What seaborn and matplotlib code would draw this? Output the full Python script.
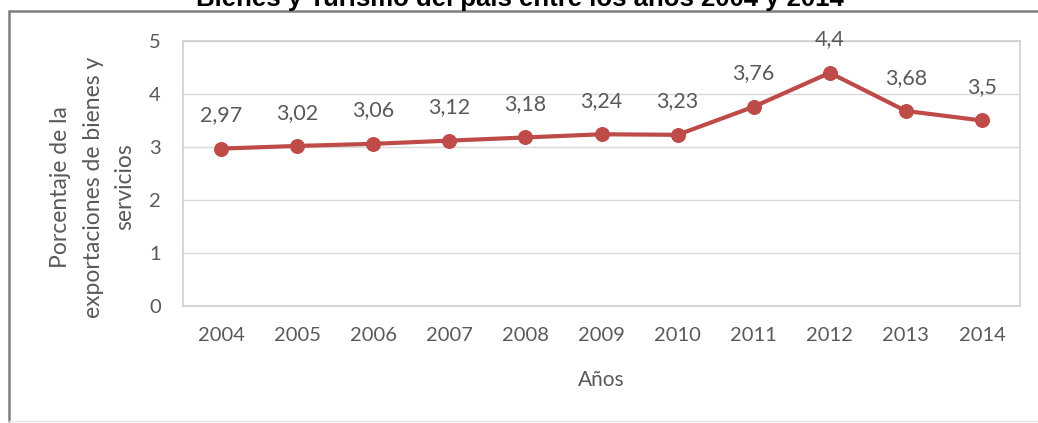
import matplotlib
matplotlib.use("Agg")
import matplotlib.pyplot as plt
import seaborn as sns
import pandas as pd
from matplotlib.lines import Line2D

years = ["2004", "2005", "2006", "2007", "2008", "2009", "2010", "2011", "2012", "2013", "2014"]
values = [2.97, 3.02, 3.06, 3.12, 3.18, 3.24, 3.23, 3.76, 4.4, 3.68, 3.5]
value_labels = ["2,97", "3,02", "3,06", "3,12", "3,18", "3,24", "3,23", "3,76", "4,4", "3,68", "3,5"]
y_ticks = [0, 1, 2, 3, 4, 5]

title = "Bienes y Turismo del país entre los años 2004 y 2014"
ylabel = "Porcentaje de la\nexportaciones de bienes y\nservicios"
xlabel = "Años"

sns.set_theme(style="white")
plt.rcParams["font.family"] = ["Lato", "DejaVu Sans"]

W, H = 1038, 423
fig = plt.figure(figsize=(W / 100, H / 100), dpi=100)
fig.patch.set_facecolor("white")

ax = fig.add_axes([183 / W, 1 - 306 / H, (1020 - 183) / W, (306 - 41) / H])

df = pd.DataFrame({"year": years, "value": values})
line_color = "#BE4B48"
sns.lineplot(data=df, x="year", y="value", ax=ax, color=line_color, linewidth=3,
             marker="o", markersize=10, markeredgecolor=line_color, sort=False)

ax.set_xlim(-0.5, len(years) - 0.5)
ax.set_ylim(0, 5)
ax.set_yticks(y_ticks)
ax.set_yticklabels([str(t) for t in y_ticks])
ax.grid(axis="y", color="#D9D9D9", linewidth=1)
ax.set_axisbelow(True)
for s in ax.spines.values():
    s.set_visible(True)
    s.set_color("#D0D0D0")
    s.set_linewidth(1.2)

text_color = "#595959"
ax.tick_params(axis="both", length=0, labelsize=14.5, labelcolor=text_color)
ax.tick_params(axis="y", pad=16)
ax.tick_params(axis="x", pad=15)
ax.set_xlabel("")
ax.set_ylabel("")

for i, (v, lab) in enumerate(zip(values, value_labels)):
    ax.annotate(lab, (i, v), xytext=(0, 24), textcoords="offset points",
                ha="center", va="center", fontsize=15.5, color=text_color)

fig.text(601 / W, 1 - 380 / H, xlabel, ha="center", va="center", fontsize=15, color=text_color)
fig.text(93 / W, 1 - 187 / H, ylabel, ha="center", va="center", rotation=90,
         fontsize=16.5, color=text_color, linespacing=1.65, multialignment="center")

fig.text(520 / W, 1 - 6 / H, title, ha="center", va="baseline", fontsize=18.5,
         fontweight="bold", color="black", family=["Liberation Sans", "DejaVu Sans"])

# outer chart border
fig.add_artist(Line2D([9 / W, 9 / W], [1 - 11 / H, 1 - 421 / H], transform=fig.transFigure,
                      color="#7F7F7F", linewidth=1.8))
fig.add_artist(Line2D([9 / W, 1.0], [1 - 11 / H, 1 - 11 / H], transform=fig.transFigure,
                      color="#7F7F7F", linewidth=1.8))
fig.add_artist(Line2D([9 / W, 1.0], [1 - 421 / H, 1 - 421 / H], transform=fig.transFigure,
                      color="#E6E6E6", linewidth=1.0))

fig.savefig("out.png", dpi=100, facecolor="white")
